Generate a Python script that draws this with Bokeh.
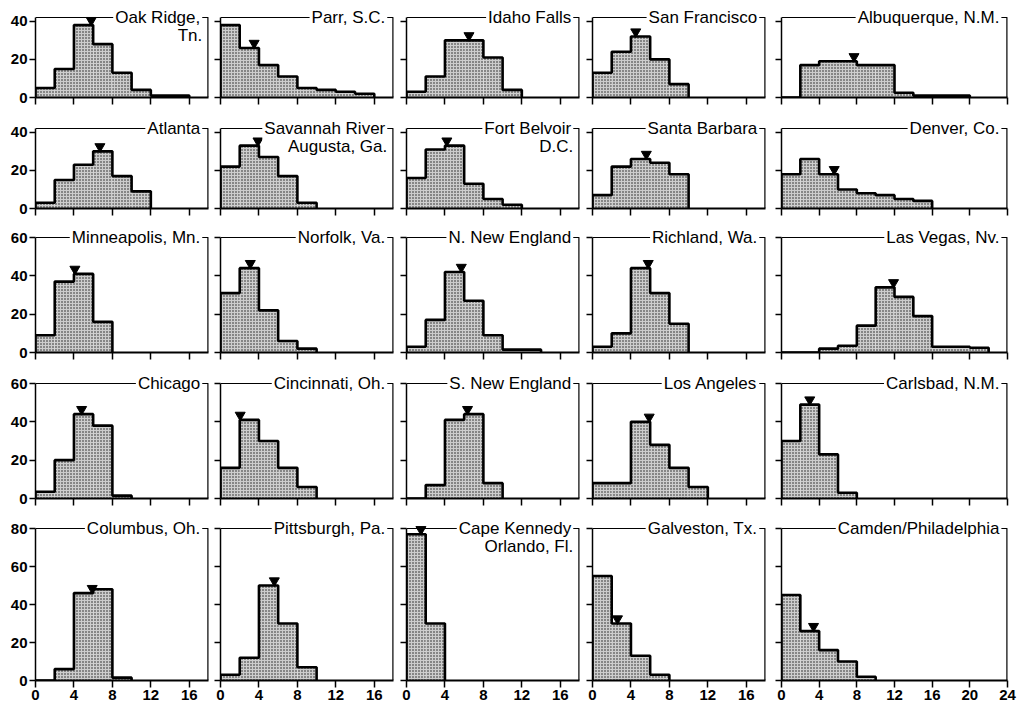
from bokeh.plotting import figure
from bokeh.layouts import column, row
from bokeh.models import Range1d, Label, FixedTicker, ColumnDataSource
from bokeh.embed import file_html
from bokeh.resources import INLINE

# ---------------- data (bin width 2, bins start at 0) ----------------
bin_width = 2

oak_ridge = [5, 15, 38, 28, 13, 4, 1, 1]
parr = [38, 26, 17, 11, 5, 4, 3, 2]
idaho_falls = [3, 11, 30, 30, 21, 4]
san_francisco = [13, 24, 32, 20, 7]
albuquerque = [0, 17, 19, 19, 17, 17, 2.5, 1, 1, 1]

atlanta = [3, 15, 23, 30, 17, 9]
savannah_river = [22, 33, 27, 17, 3]
fort_belvoir = [16, 31, 33, 13, 5, 2]
santa_barbara = [7, 22, 26, 24, 18]
denver = [18, 26, 18, 10, 8, 7, 5, 4]

minneapolis = [9, 37, 41, 16]
norfolk = [31, 44, 22, 6, 2]
n_new_england = [3, 17, 42, 27, 9, 1.5, 1.5]
richland = [3, 10, 44, 31, 15]
las_vegas = [0, 0, 2, 3.5, 14, 34, 29, 19, 3, 3, 2.5]

chicago = [3.5, 20, 44, 38, 1.5]
cincinnati = [16, 41, 30, 16, 6]
s_new_england = [0, 7, 41, 44, 8]
los_angeles = [8, 8, 40, 28, 16, 6]
carlsbad = [30, 49, 23, 3]

columbus = [0, 6, 46, 48, 1.5]
pittsburgh = [3, 12, 50, 30, 7]
cape_kennedy = [77, 30]
galveston = [55, 30, 13, 3]
camden = [45, 26, 16, 10, 2]

titles = [
    "Oak Ridge,\nTn.", "Parr, S.C.", "Idaho Falls", "San Francisco", "Albuquerque, N.M.",
    "Atlanta", "Savannah River\nAugusta, Ga.", "Fort Belvoir\nD.C.", "Santa Barbara", "Denver, Co.",
    "Minneapolis, Mn.", "Norfolk, Va.", "N. New England", "Richland, Wa.", "Las Vegas, Nv.",
    "Chicago", "Cincinnati, Oh.", "S. New England", "Los Angeles", "Carlsbad, N.M.",
    "Columbus, Oh.", "Pittsburgh, Pa.", "Cape Kennedy\nOrlando, Fl.", "Galveston, Tx.", "Camden/Philadelphia",
]

counts = [
    oak_ridge, parr, idaho_falls, san_francisco, albuquerque,
    atlanta, savannah_river, fort_belvoir, santa_barbara, denver,
    minneapolis, norfolk, n_new_england, richland, las_vegas,
    chicago, cincinnati, s_new_england, los_angeles, carlsbad,
    columbus, pittsburgh, cape_kennedy, galveston, camden,
]

means = [
    5.8, 3.5, 6.5, 4.5, 7.7,
    6.7, 3.9, 4.2, 5.6, 5.6,
    4.1, 3.1, 5.7, 5.8, 11.9,
    4.8, 2.05, 6.35, 5.9, 3.0,
    5.9, 5.6, 1.5, 2.6, 3.4,
]

x_max_cols = [18, 18, 18, 18, 24]
x_ticks_cols = [[0, 4, 8, 12, 16]] * 4 + [[0, 4, 8, 12, 16, 20, 24]]
y_max_rows = [42, 42, 60, 60, 80]
y_ticks_rows = [[0, 20, 40], [0, 20, 40], [0, 20, 40, 60], [0, 20, 40, 60], [0, 20, 40, 60, 80]]

# ---------------- geometry / style ----------------
col_frame_w = [173, 173, 173, 173, 226]
col_border_l = [35, 7, 7, 7, 8]
col_border_r = [5, 6, 6, 8, 12]
row_frame_h = [80, 80, 115, 115, 152]
row_border_t = [17, 16, 15, 16, 15]
row_border_b = [15, 14, 15, 15, 29]

FONT = "Liberation Sans"
TICK_FS = "15px"
TITLE_FS = "17px"
MARK_OFF = 2.5     # data units above bar top for mean marker
TITLE_DX = 0.65    # data units left of right edge
LINE2_DY = 9.5     # data units below top for 2nd title line


def make_panel(r, c):
    idx = r * 5 + c
    cnts = counts[idx]
    edges = [i * bin_width for i in range(len(cnts) + 1)]
    xmax = x_max_cols[c]
    ymax = y_max_rows[r]
    # frame extends up into the top border so the titles are not clipped
    frame_h = row_frame_h[r] + row_border_t[r]
    ytop = ymax * frame_h / row_frame_h[r]
    p = figure(
        width=col_border_l[c] + col_frame_w[c] + col_border_r[c],
        height=frame_h + row_border_b[r],
        x_range=Range1d(0, xmax), y_range=Range1d(0, ytop),
        toolbar_location=None, tools="", output_backend="svg",
        min_border_left=col_border_l[c], min_border_right=col_border_r[c],
        min_border_top=0, min_border_bottom=row_border_b[r],
    )
    p.grid.visible = False
    p.outline_line_color = None
    p.background_fill_color = "white"
    p.border_fill_color = "white"

    src = ColumnDataSource(dict(left=edges[:-1], right=edges[1:], top=cnts))
    p.quad(left="left", right="right", top="top", bottom=0, source=src,
           fill_color="#cdcdcd", hatch_pattern="dot", hatch_color="#1a1a1a",
           hatch_scale=3.0, hatch_weight=1.0, line_color=None)
    xs = [edges[0]] + edges
    ys = [0] + list(cnts) + [0]
    p.step(xs, ys, mode="after", line_width=2.6, color="black")

    m = means[idx]
    h = cnts[int(m // bin_width)]
    p.scatter([m], [h + MARK_OFF], marker="inverted_triangle", size=10, color="black")

    # frame: top border and right border
    p.segment(x0=[0], y0=[ymax], x1=[xmax], y1=[ymax], line_color="black", line_width=1.2)
    p.segment(x0=[xmax], y0=[0], x1=[xmax], y1=[ymax], line_color="black", line_width=2.4)

    xa = p.xaxis[0]
    xa.ticker = FixedTicker(ticks=x_ticks_cols[c])
    xa.axis_line_width = 2
    xa.major_tick_line_width = 1.5
    xa.major_tick_out = 7
    xa.major_tick_in = 0
    xa.minor_tick_line_color = None
    xa.major_label_text_font = FONT
    xa.major_label_text_font_style = "bold"
    xa.major_label_text_color = "black"
    if r == 4:
        xa.major_label_text_font_size = TICK_FS
        xa.major_label_standoff = 2
    else:
        xa.major_label_text_font_size = "0px"
        xa.major_label_text_alpha = 0
        xa.major_label_standoff = 0

    ya = p.yaxis[0]
    ya.ticker = FixedTicker(ticks=y_ticks_rows[r])
    ya.bounds = (0, ymax)
    ya.axis_line_width = 1.5
    ya.major_tick_line_width = 1.5
    ya.major_tick_out = 6
    ya.major_tick_in = 0
    ya.minor_tick_line_color = None
    ya.major_label_text_font = FONT
    ya.major_label_text_font_style = "bold"
    ya.major_label_text_color = "black"
    if c == 0:
        ya.major_label_text_font_size = TICK_FS
        ya.major_label_standoff = 2
    else:
        ya.major_label_text_font_size = "0px"
        ya.major_label_text_alpha = 0
        ya.major_label_standoff = 0

    lines = titles[idx].split("\n")
    p.add_layout(Label(x=xmax - TITLE_DX, y=ymax, text=lines[0],
                       text_align="right", text_baseline="middle",
                       text_font=FONT, text_font_size=TITLE_FS, text_color="black",
                       background_fill_color="white", padding=2))
    if len(lines) > 1:
        p.add_layout(Label(x=xmax - TITLE_DX, y=ymax - LINE2_DY, text=lines[1],
                           text_align="right", text_baseline="middle",
                           text_font=FONT, text_font_size=TITLE_FS, text_color="black"))
    return p


rows = []
for r in range(5):
    rows.append(row(*[make_panel(r, c) for c in range(5)]))
layout = column(*rows)

open("out.html", "w").write(file_html(layout, INLINE))
